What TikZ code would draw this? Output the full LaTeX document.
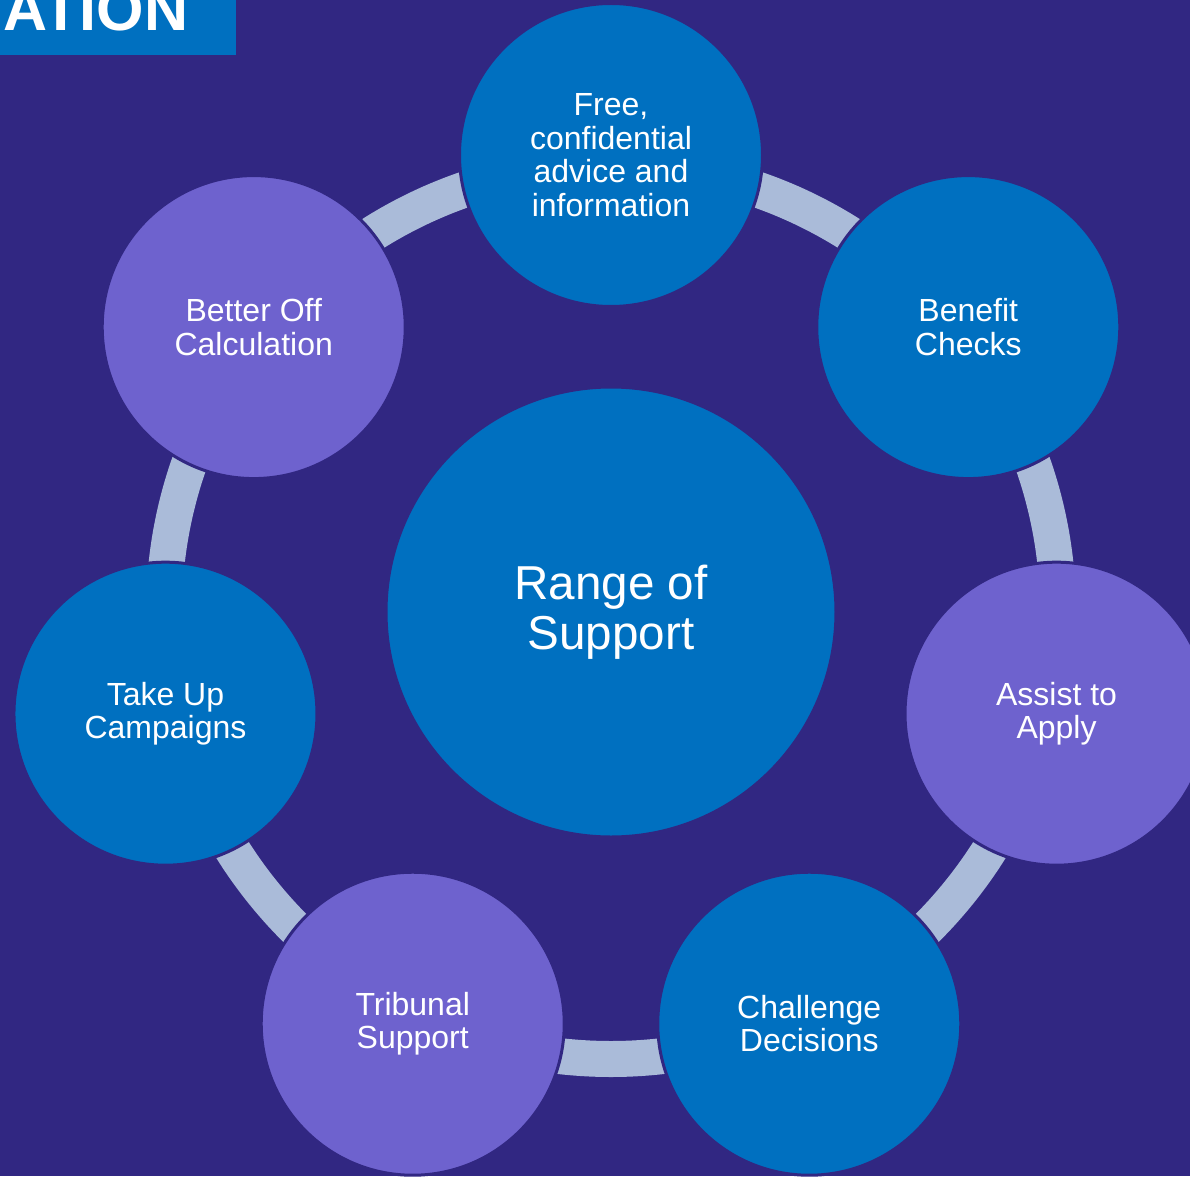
\documentclass[tikz,border=0pt]{standalone}
\usepackage{fontspec}
\setmainfont{Liberation Sans}
\usepackage{xcolor}
\usepackage{tikz}
\definecolor{bgnavy}{HTML}{312782}
\definecolor{ablue}{HTML}{0070C0}
\definecolor{apurple}{HTML}{6E62CE}
\definecolor{ringblue}{HTML}{AABBD9}
\tikzset{
  bubble/.style={circle,draw=bgnavy,line width=3pt,minimum size=303pt,
    inner sep=0pt,text=white,align=center,
    font=\fontsize{32}{33.5}\selectfont},
  hub/.style={bubble,minimum size=450pt,font=\fontsize{47.6}{50}\selectfont}
}
\begin{document}
\begin{tikzpicture}[x=1pt,y=1pt]
% radius of the ring of bubbles
  \newdimen\R
  \R=457pt
  \useasboundingbox (-611,-564) rectangle (579,612);
  \fill[bgnavy] (-611,-564) rectangle (579,612);
% title tab, cut off at the top
  \fill[ablue] (-611,612) rectangle (-375,557);
  \begin{scope}
    \clip (-611,612) rectangle (-375,557);
    \node[anchor=base west,inner sep=0pt,text=white,
      font=\fontsize{61}{61}\selectfont\bfseries] (banner) at (-608,581) {ATION};
  \end{scope}
% the ring
  \draw[ringblue,line width=36pt] (0,0) circle (447);
% bubbles
  \node[hub,fill=ablue] (range) at (0,0) {Range of\\Support};
  \node[bubble,fill=ablue] (free) at (90:\R) {Free,\\confidential\\advice and\\information};
  \node[bubble,fill=ablue] (benefit) at (90-360/7:\R) {Benefit\\Checks};
  \node[bubble,fill=apurple] (assist) at (90-2*360/7:\R) {Assist to\\Apply};
  \node[bubble,fill=ablue] (challenge) at (90-3*360/7:\R) {Challenge\\Decisions};
  \node[bubble,fill=apurple] (tribunal) at (90-4*360/7:\R) {Tribunal\\Support};
  \node[bubble,fill=ablue] (takeup) at (90-5*360/7:\R) {Take Up\\Campaigns};
  \node[bubble,fill=apurple] (betteroff) at (90-6*360/7:\R) {Better Off\\Calculation};
\end{tikzpicture}
\end{document}
